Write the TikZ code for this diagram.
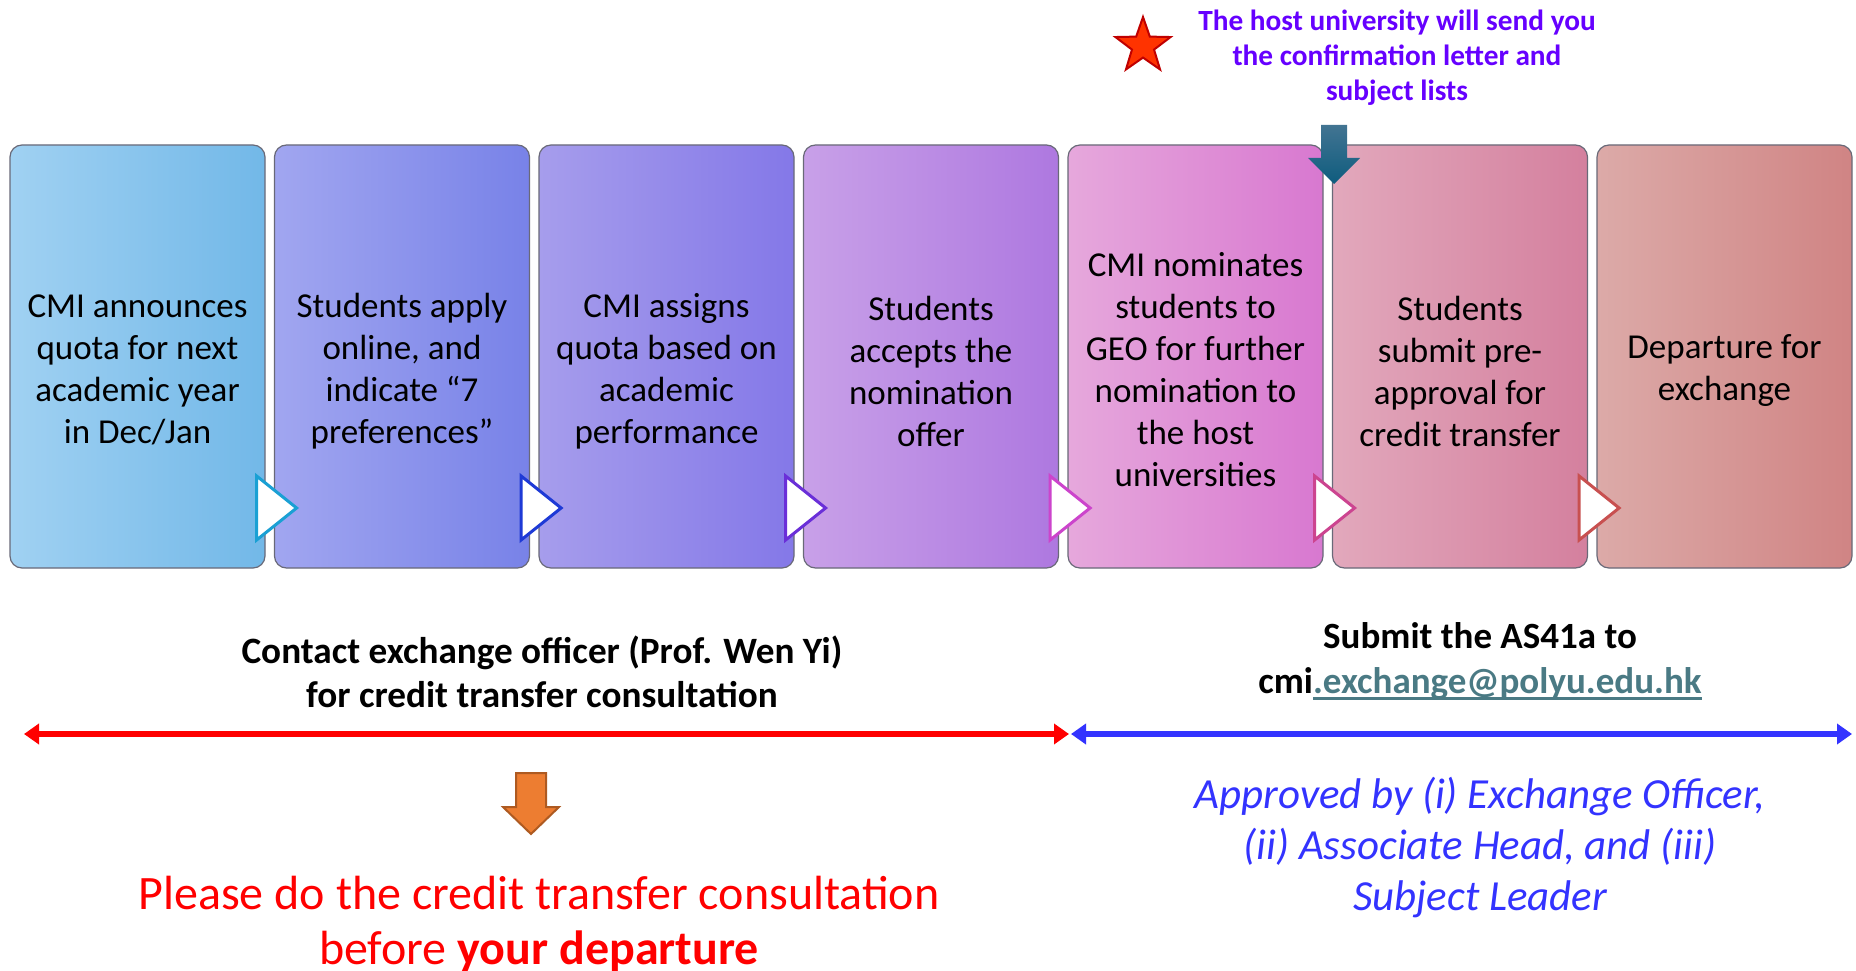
\documentclass[tikz,border=0pt]{standalone}
\usepackage{fontspec}
\setmainfont{Carlito}
\usetikzlibrary{shapes.geometric,arrows.meta}
\definecolor{boxline}{RGB}{105,105,120}
\definecolor{c1l}{RGB}{160,209,242}\definecolor{c1r}{RGB}{114,184,232}
\definecolor{c2l}{RGB}{161,166,240}\definecolor{c2r}{RGB}{120,130,232}
\definecolor{c3l}{RGB}{166,157,236}\definecolor{c3r}{RGB}{132,120,232}
\definecolor{c4l}{RGB}{200,160,232}\definecolor{c4r}{RGB}{174,120,224}
\definecolor{c5l}{RGB}{230,168,220}\definecolor{c5r}{RGB}{216,120,208}
\definecolor{c6l}{RGB}{226,168,188}\definecolor{c6r}{RGB}{212,128,158}
\definecolor{c7l}{RGB}{220,170,168}\definecolor{c7r}{RGB}{208,132,132}
\definecolor{t1}{RGB}{26,160,212}
\definecolor{t2}{RGB}{30,58,214}
\definecolor{t3}{RGB}{106,47,216}
\definecolor{t4}{RGB}{204,68,204}
\definecolor{t5}{RGB}{204,68,144}
\definecolor{t6}{RGB}{200,80,80}
\definecolor{hostviolet}{RGB}{102,0,255}
\definecolor{starfill}{RGB}{255,51,0}
\definecolor{starline}{RGB}{192,0,0}
\definecolor{tealtop}{RGB}{66,116,146}
\definecolor{tealbot}{RGB}{14,92,126}
\definecolor{orangefill}{RGB}{237,125,49}
\definecolor{orangeline}{RGB}{174,90,33}
\definecolor{mailteal}{RGB}{74,122,132}
\definecolor{appblue}{RGB}{51,51,255}
\newsavebox\ulbox
\newcommand\thickul[1]{\sbox\ulbox{#1}\usebox\ulbox\llap{\rule[-6pt]{\wd\ulbox}{2.6pt}}}
\begin{document}
\begin{tikzpicture}[x=1pt,y=-1pt,
  stepbox/.style={rectangle, rounded corners=12pt, minimum width=255pt, minimum height=423pt,
    inner sep=0pt, draw=boxline, line width=1.2pt},
  boxtext/.style={align=center, font=\fontsize{35}{42}\selectfont, text=black, inner sep=0pt},
  tri/.style={fill=white, line width=3pt, line join=miter},
  bigline/.style={line width=5.5pt, {Triangle[length=15pt,width=20pt]}-{Triangle[length=15pt,width=20pt]}}
]
\useasboundingbox[fill=white] (0,0) rectangle (1856,971);

% boxes
\node[stepbox, left color=c1l, right color=c1r] (b1) at (137.5,356.5) {};
\node[stepbox, left color=c2l, right color=c2r] (b2) at (402,356.5) {};
\node[stepbox, left color=c3l, right color=c3r] (b3) at (666.5,356.5) {};
\node[stepbox, left color=c4l, right color=c4r] (b4) at (931,356.5) {};
\node[stepbox, left color=c5l, right color=c5r] (b5) at (1195.5,356.5) {};
\node[stepbox, left color=c6l, right color=c6r] (b6) at (1460,356.5) {};
\node[stepbox, left color=c7l, right color=c7r] (b7) at (1724.5,356.5) {};

% box texts
\node[boxtext] (x1) at ([yshift=-13pt]b1.center) {CMI announces\\quota for next\\academic year\\in Dec/Jan};
\node[boxtext] (x2) at ([yshift=-14.5pt]b2.center) {Students apply\\online, and\\indicate “7\\preferences”};
\node[boxtext] (x3) at ([yshift=-15pt]b3.center) {CMI assigns\\quota based on\\academic\\performance};
\node[boxtext] (x4) at ([yshift=-14.5pt]b4.center) {Students\\accepts the\\nomination\\offer};
\node[boxtext] (x5) at ([yshift=-13pt]b5.center) {CMI nominates\\students to\\GEO for further\\nomination to\\the host\\universities};
\node[boxtext] (x6) at ([yshift=-14.5pt]b6.center) {Students\\submit pre-\\approval for\\credit transfer};
\node[boxtext] (x7) at ([yshift=-14.5pt]b7.center) {Departure for\\exchange};

% chevron triangles
\foreach \b/\c in {b1/t1,b2/t2,b3/t3,b4/t4,b5/t5,b6/t6}{
  \draw[tri, draw=\c] ([xshift=-9pt,yshift=-119.5pt]\b.east) -- ([xshift=31pt,yshift=-151.5pt]\b.east)
     -- ([xshift=-9pt,yshift=-183.5pt]\b.east) -- cycle;
}

% star and host text
\node[star, star points=5, star point ratio=2.5, minimum size=58pt, inner sep=0pt,
  fill=starfill, draw=starline, line width=2pt] (star) at (1143,46) {};
\node[align=center, font=\bfseries\fontsize{29.3}{35}\selectfont, text=hostviolet] (host) at (1397,58)
  {The host university will send you\\the confirmation letter and\\subject lists};

% teal block arrow
\shade[top color=tealtop, bottom color=tealbot]
  (1321,125) -- (1347,125) -- (1347,158) -- (1360,158) -- (1334,184) -- (1308,158) -- (1321,158) -- cycle;

% bottom texts
\node[align=center, font=\bfseries\fontsize{37.2}{44}\selectfont] (contact) at (542,672)
  {Contact exchange officer (Prof. Wen Yi)\\for credit transfer consultation};
\node[align=center, font=\bfseries\fontsize{37}{45}\selectfont] (submit) at (1480,661.5)
  {Submit the AS41a to\\cmi{\color{mailteal}\thickul{.exchange@polyu.edu.hk}}};

% double arrows
\coordinate (rl) at (24,734);
\coordinate (rr) at (1069,734);
\coordinate (bl) at (1071,734);
\coordinate (br) at (1852,734);
\draw[bigline, draw=red, fill=red] (rl) -- (rr);
\draw[bigline, draw=appblue, fill=appblue] (bl) -- (br);

% orange block arrow
\draw[fill=orangefill, draw=orangeline, line width=2pt, line join=miter]
  (516,773) -- (546,773) -- (546,807) -- (559,807) -- (531,834) -- (503,807) -- (516,807) -- cycle;

\node[align=center, font=\itshape\fontsize{42.9}{51}\selectfont, text=appblue] (approved) at (1480,847.5)
  {Approved by (i) Exchange Officer,\\(ii) Associate Head, and (iii)\\Subject Leader};
\node[align=center, font=\fontsize{48}{55}\selectfont, text=red] (please) at (539,924)
  {Please do the credit transfer consultation\\before \textbf{your departure}};
\end{tikzpicture}
\end{document}
